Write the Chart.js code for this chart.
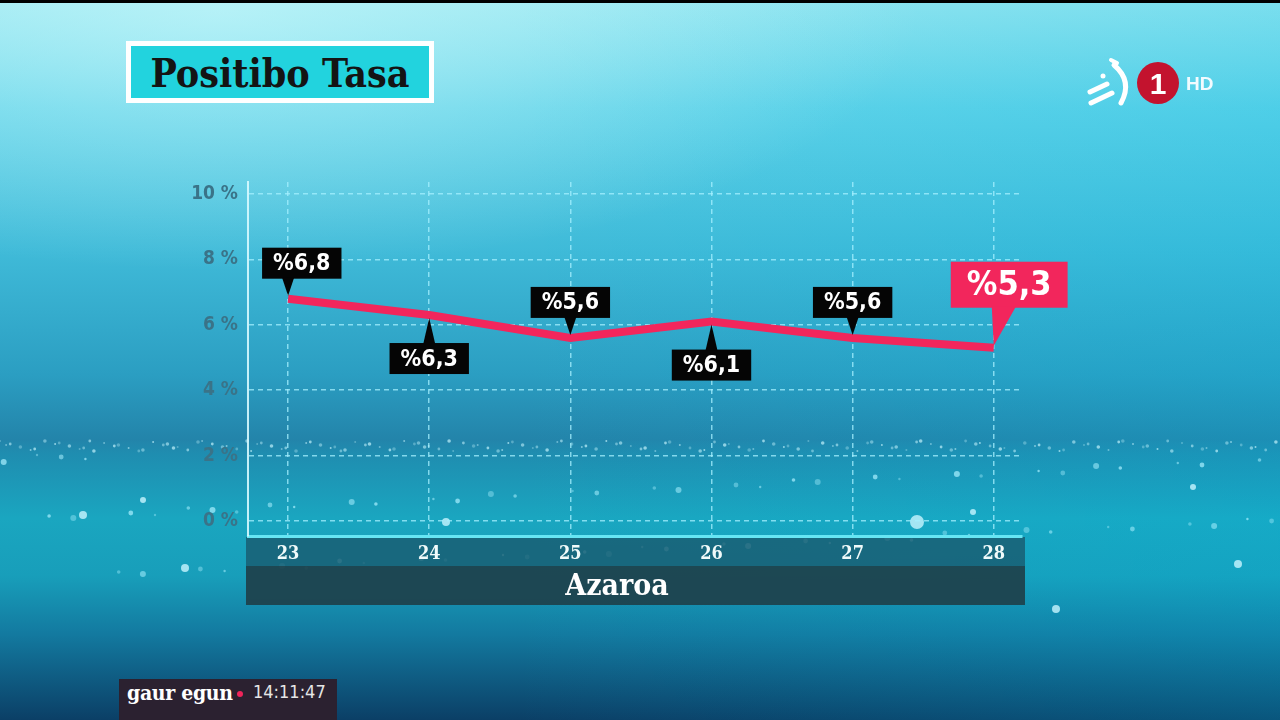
<!DOCTYPE html>
<html><head><meta charset="utf-8">
<script src="https://cdn.jsdelivr.net/npm/chart.js@4"></script>
<style>
html,body{margin:0;padding:0;width:1280px;height:720px;overflow:hidden;}
body{position:relative;background:
 radial-gradient(ellipse 700px 260px at 220px 10px, rgba(205,250,252,0.6), rgba(205,250,252,0) 100%),
 linear-gradient(90deg, rgba(0,0,0,0) 40%, rgba(0,190,230,0.18) 100%),
 linear-gradient(180deg,#96e6f0 0%,#5fd2e8 15%,#3fbad8 35%,#2b9ec2 52%,#2384aa 61%,#1f8db0 63%,#1aa6c0 72%,#189eba 80%,#137aa0 88%,#0b3f66 100%);}
#topbar{position:absolute;left:0;top:0;width:1280px;height:3px;background:#000;}
#c{position:absolute;left:0;top:0;}
#title{position:absolute;left:126px;top:41px;width:298px;height:52px;border:5px solid #fff;background:#22d3de;
 font-family:"DejaVu Serif Condensed";font-weight:bold;font-size:39px;line-height:54px;color:#141414;text-align:center;}
#logo{position:absolute;left:1080px;top:55px;}
#clock{position:absolute;left:119px;top:679px;width:218px;height:41px;background:#2b2130;}
#clock .g{position:absolute;left:8px;top:1px;font-family:"DejaVu Serif Condensed";font-weight:bold;font-size:21px;color:#fff;letter-spacing:-0.3px;}
#clock .d{position:absolute;left:118px;top:12px;width:6px;height:6px;border-radius:3px;background:#f0245a;}
#clock .t{position:absolute;left:134px;top:2px;font-family:"DejaVu Sans Condensed";font-size:18px;color:#e6e6e6;}
</style></head>
<body>
<div id="topbar"></div>
<canvas id="c" width="1280" height="720"></canvas>
<div id="title">Positibo Tasa</div>
<svg id="logo" width="150" height="60" viewBox="0 0 150 60">
 <path d="M34 10 Q53 26 41 48" stroke="#fff" stroke-width="5" fill="none" stroke-linecap="round"/>
 <path d="M31 5 L37 8" stroke="#fff" stroke-width="4" fill="none" stroke-linecap="round"/>
 <path d="M10 37 L27 29" stroke="#fff" stroke-width="5" fill="none" stroke-linecap="round"/>
 <path d="M11 48 L32 38" stroke="#fff" stroke-width="5" fill="none" stroke-linecap="round"/>
 <circle cx="23" cy="21" r="2.5" fill="#fff"/>
 <circle cx="78" cy="28" r="21" fill="#c3132e"/>
 <text x="78" y="39" text-anchor="middle" font-family="Liberation Sans" font-weight="bold" font-size="30" fill="#fff">1</text>
 <text x="106" y="35" font-family="Liberation Sans" font-weight="bold" font-size="19" fill="#f2fbff">HD</text>
</svg>
<div id="clock"><span class="g">gaur egun</span><span class="d"></span><span class="t">14:11:47</span></div>
<script>
const days = ['23','24','25','26','27','28'];
const rates = [6.8, 6.3, 5.6, 6.1, 5.6, 5.3];
const yTicks = [0, 2, 4, 6, 8, 10];
const labelSides = ['above','below','above','below','above','above'];
const xTitle = 'Azaroa';

const fmt = v => '%' + v.toFixed(1).replace('.', ',');

const bandPlugin = {
  id: 'bands',
  beforeDraw(chart) {
    const ctx = chart.ctx, xs = chart.scales.x;
    ctx.save();
    // horizon sparkle band (decorative)
    for (let i = 0; i < 160; i++) {
      const x = (i * 83.7) % 1280;
      const y = 441 + ((i * 7) % 11);
      ctx.fillStyle = 'rgba(190,240,250,' + (0.35 + (i % 4) * 0.12) + ')';
      ctx.beginPath(); ctx.arc(x, y, 1 + (i % 3) * 0.4, 0, Math.PI * 2); ctx.fill();
    }
    for (let i = 0; i < 70; i++) {
      const x = (i * 151.3 + 37) % 1280;
      const y = 455 + ((i * 53) % 120);
      ctx.fillStyle = 'rgba(170,240,255,' + (0.4 + (i % 3) * 0.15) + ')';
      ctx.beginPath(); ctx.arc(x, y, 1.2 + (i % 4) * 0.6, 0, Math.PI * 2); ctx.fill();
    }
    ctx.fillStyle = 'rgba(200,245,255,0.8)';
    [[917,522,7],[185,568,4],[1056,609,4],[83,515,4],[1238,564,4],[973,512,3],[446,522,4],[143,500,3],[1193,487,3]].forEach(p=>{
      ctx.beginPath(); ctx.arc(p[0],p[1],p[2],0,Math.PI*2); ctx.fill();
    });
    ctx.fillStyle = 'rgba(24,92,112,0.82)';
    ctx.fillRect(246, xs.top + 1, 779, 29);
    ctx.fillStyle = 'rgba(30,66,76,0.94)';
    ctx.fillRect(246, xs.top + 30, 779, 39);
    ctx.restore();
  },
  afterDraw(chart) {
    const ctx = chart.ctx, xs = chart.scales.x;
    ctx.save();
    ctx.font = 'bold 30px "DejaVu Serif Condensed"';
    ctx.fillStyle = '#ffffff';
    ctx.textAlign = 'center';
    ctx.textBaseline = 'middle';
    ctx.fillText(xTitle, 617, xs.top + 51);
    ctx.restore();
  }
};

const labelPlugin = {
  id: 'pointLabels',
  afterDatasetsDraw(chart) {
    const ctx = chart.ctx;
    const pts = chart.getDatasetMeta(0).data;
    ctx.save();
    ctx.textBaseline = 'middle';
    ctx.textAlign = 'center';
    pts.forEach((p, i) => {
      const txt = fmt(rates[i]);
      const last = i === pts.length - 1;
      if (last) {
        ctx.font = 'bold 34px "DejaVu Sans Condensed"';
        const w = ctx.measureText(txt).width + 32, h = 46;
        const left = p.x - 43, bottom = p.y - 40;
        ctx.fillStyle = '#f2265c';
        ctx.fillRect(left, bottom - h, w, h);
        ctx.beginPath();
        ctx.moveTo(p.x - 2, bottom - 1); ctx.lineTo(p.x + 22, bottom - 1); ctx.lineTo(p.x, p.y - 2);
        ctx.closePath(); ctx.fill();
        ctx.fillStyle = '#ffffff';
        ctx.fillText(txt, left + w / 2, bottom - h / 2 + 1);
        return;
      }
      ctx.font = 'bold 23px "DejaVu Sans Condensed"';
      const w = ctx.measureText(txt).width + 22, h = 31;
      const left = i === 0 ? p.x - 26 : p.x - w / 2;
      ctx.fillStyle = '#050505';
      let top, tipY, baseY;
      if (labelSides[i] === 'above') {
        top = p.y - 20 - h; baseY = top + h - 1; tipY = p.y - 3;
      } else {
        top = p.y + 28; baseY = top + 1; tipY = p.y + 3;
      }
      ctx.fillRect(left, top, w, h);
      ctx.beginPath();
      ctx.moveTo(p.x - 6, baseY); ctx.lineTo(p.x + 6, baseY); ctx.lineTo(p.x, tipY);
      ctx.closePath(); ctx.fill();
      ctx.fillStyle = '#ffffff';
      ctx.fillText(txt, left + w / 2, top + h / 2 + 1);
    });
    ctx.restore();
  }
};

const gridCol = 'rgba(165,240,255,0.75)';
new Chart(document.getElementById('c'), {
  type: 'line',
  data: {
    datasets: [{
      data: days.map((d, i) => ({ x: Number(d), y: rates[i] })),
      borderColor: '#f2265c',
      borderWidth: 8,
      pointRadius: 0,
      tension: 0,
      borderJoinStyle: 'miter',
      borderCapStyle: 'butt'
    }]
  },
  options: {
    responsive: false, animation: false, devicePixelRatio: 1,
    layout: { padding: { top: 182, right: 258, bottom: 115, left: 0 } },
    plugins: { legend: { display: false }, tooltip: { enabled: false } },
    scales: {
      x: {
        type: 'linear', min: 22.716, max: 28.2,
        afterBuildTicks: s => { s.ticks = days.map(d => ({ value: Number(d) })); },
        afterFit: s => { s.height = 69; },
        grid: { color: gridCol, lineWidth: 1.5, drawTicks: false },
        border: { display: true, color: '#66e6f4', width: 3, dash: [5, 4] },
        ticks: { color: '#f0fafa', font: { family: 'DejaVu Serif Condensed', weight: 'bold', size: 18 }, padding: 8,
                 maxRotation: 0, autoSkip: false, callback: v => String(v) },
        title: { display: false }
      },
      y: {
        min: -0.46, max: 10.37,
        afterBuildTicks: s => { s.ticks = yTicks.map(v => ({ value: v })); },
        afterFit: s => { s.width = 248; },
        grid: { color: gridCol, lineWidth: 1.5, drawTicks: false },
        border: { display: true, color: 'rgba(215,250,255,0.9)', width: 2, dash: [5, 4] },
        ticks: { color: '#3a7388', font: { family: 'DejaVu Sans Condensed', weight: 'bold', size: 19 }, padding: 10,
                 callback: v => v + ' %' }
      }
    }
  },
  plugins: [bandPlugin, labelPlugin]
});
</script>
</body></html>
